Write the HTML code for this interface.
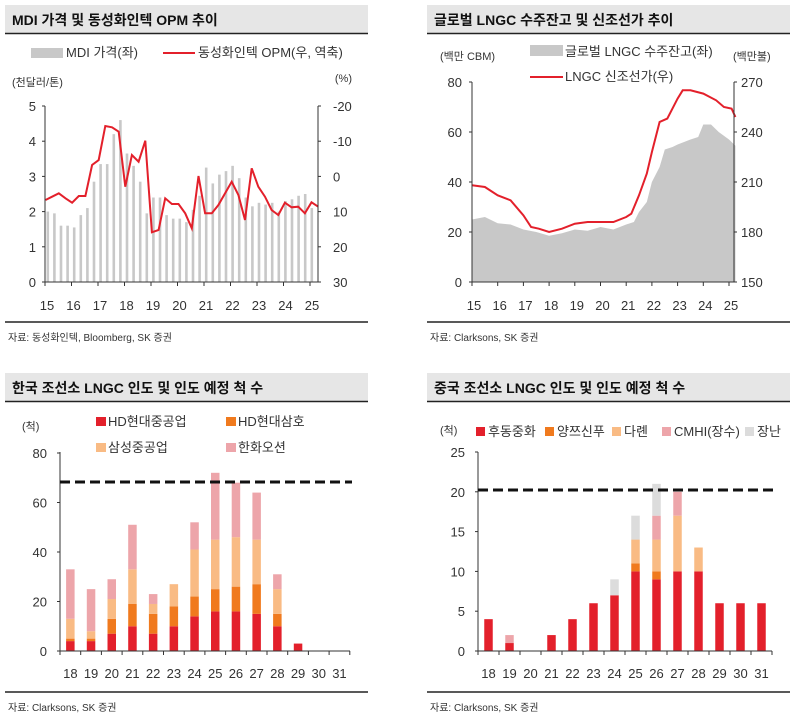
<!DOCTYPE html>
<html><head><meta charset="utf-8"><style>
body{margin:0;background:#fff}
svg{display:block;font-family:"Liberation Sans","Noto Sans CJK KR",sans-serif}
</style></head><body>
<svg id="s" width="800" height="722" viewBox="0 0 800 722" xmlns="http://www.w3.org/2000/svg"></svg>
<script>
const S=document.getElementById('s');let h='';
const R='#e3202b',O='#f07a1e',LO='#f9bb84',PK='#eda5aa',GY='#dcdcdc';
function T(x,y,t,o={}){h+=`<text x="${x}" y="${y}" font-size="${o.s||13}" fill="${o.c||'#333'}" text-anchor="${o.a||'start'}" font-weight="${o.w||'normal'}">${t}</text>`;}
function L(x1,y1,x2,y2,c='#333',w=1,d=''){h+=`<line x1="${x1}" y1="${y1}" x2="${x2}" y2="${y2}" stroke="${c}" stroke-width="${w}" ${d?`stroke-dasharray="${d}"`:''}/>`;}
function Rc(x,y,w,hh,c){h+=`<rect x="${x}" y="${y}" width="${w}" height="${hh}" fill="${c}"/>`;}
function panel(x1,x2,y,title){Rc(x1,y,x2-x1,28,'#e6e6e6');L(x1,y+28.5,x2,y+28.5,'#222',1.5);T(x1+7,y+20,title,{s:14,w:'bold',c:'#111'});}
// Panel 1
panel(5,368,5,'MDI 가격 및 동성화인텍 OPM 추이');
Rc(31,48,32,10,'#c8c8c8');T(66,57,'MDI 가격(좌)',{s:13});
L(163,53,195,53,R,2);T(198,57,'동성화인텍 OPM(우, 역축)',{s:13});
T(12,86,'(천달러/톤)',{s:11});T(352,82,'(%)',{s:11,a:'end'});
const bars=[2.0,1.95,1.6,1.6,1.55,1.9,2.1,2.85,3.35,3.35,4.2,4.6,3.65,3.3,2.85,1.95,2.4,2.4,1.9,1.8,1.8,1.7,2.05,2.45,3.25,2.8,3.05,3.15,3.3,2.95,2.4,2.15,2.25,2.2,2.25,2.0,2.3,2.35,2.45,2.5,2.1];
bars.forEach((v,i)=>Rc(46.5+6.6*i,282-v*35.2,2.6,v*35.2,'#c8c8c8'));
const opm=[600,590,580,595,608,588,588,495,480,378,382,395,560,465,485,422,697,690,595,612,612,640,685,528,640,640,615,580,545,585,660,505,560,590,630,645,608,622,620,640,607,620];
h+=`<polyline fill="none" stroke="${R}" stroke-width="2" points="${opm.map((y,i)=>(45.5+i*6.65).toFixed(1)+','+(y/3).toFixed(1)).join(' ')}"/>`;
L(45,106,45,282);L(318,106,318,282);
for(let k=0;k<=5;k++){let y=282-k*35.2;L(42,y,45,y);T(36,y+5,k,{s:13,a:'end'});L(318,y,321,y);T(333,y+5,[30,20,10,0,-10,-20][k],{s:13});}
L(45,282,318,282);
for(let k=0;k<=10;k++){let x=45+k*26.5;L(x,282,x,286);T(x+2,310,15+k,{s:13,a:'middle'});}
L(5,322,368,322,'#222',1.5);T(8,341,'자료: 동성화인텍, Bloomberg, SK 증권',{s:10});
// Panel 2
panel(427,790,5,'글로벌 LNGC 수주잔고 및 신조선가 추이');
Rc(530,45,33,11,'#c8c8c8');T(565,56,'글로벌 LNGC 수주잔고(좌)',{s:13});
L(530,77,563,77,R,2);T(565,81,'LNGC 신조선가(우)',{s:13});
T(440,60,'(백만 CBM)',{s:11});T(733,60,'(백만불)',{s:11});
const X2=t=>472+(t-15)*25.7;
const ar=[[15,25],[15.5,26],[16,23.5],[16.5,23],[17,21],[17.5,20],[18,18.5],[18.5,19.5],[19,21],[19.5,20.5],[20,22],[20.5,21],[21,23],[21.3,24],[21.5,28],[21.8,32],[22,40],[22.3,46],[22.5,53],[22.8,54],[23,55],[23.5,57],[23.8,58],[24,63],[24.3,63],[24.6,60],[25,57],[25.25,54.5]];
h+=`<polygon fill="#c8c8c8" points="${X2(15)},282 ${ar.map(p=>X2(p[0]).toFixed(1)+','+(282-p[1]*2.5).toFixed(1)).join(' ')} ${X2(25.25)},282"/>`;
const pr=[[15,208],[15.5,207],[16,202],[16.5,199],[17,190],[17.3,183],[17.6,182],[18,180],[18.5,182],[19,185],[19.5,186],[20,186],[20.5,186],[21,189],[21.2,191],[21.5,202],[21.8,215],[22,228],[22.3,246],[22.6,248],[23,260],[23.2,265],[23.5,265],[24,263],[24.5,259],[24.8,255],[25.1,254],[25.25,249]];
h+=`<polyline fill="none" stroke="${R}" stroke-width="2" points="${pr.map(p=>X2(p[0]).toFixed(1)+','+(282-(p[1]-150)*1.667).toFixed(1)).join(' ')}"/>`;
L(472,82,472,282);L(734,82,734,282);L(472,282,734,282);
for(let k=0;k<=4;k++){let y=282-k*50;L(469,y,472,y);T(462,y+5,k*20,{s:13,a:'end'});L(734,y,737,y);T(741,y+5,150+k*30,{s:13});}
for(let k=0;k<=10;k++){let x=472+k*25.7;L(x,282,x,286);T(x+2,310,15+k,{s:13,a:'middle'});}
L(427,322,790,322,'#222',1.5);T(430,341,'자료: Clarksons, SK 증권',{s:10});
// Panel 3
panel(5,368,373,'한국 조선소 LNGC 인도 및 인도 예정 척 수');
Rc(96,417,10,9,R);T(108,426,'HD현대중공업',{s:13});
Rc(226,417,10,9,O);T(238,426,'HD현대삼호',{s:13});
Rc(96,443,10,9,LO);T(108,452,'삼성중공업',{s:13});
Rc(226,443,10,9,PK);T(238,452,'한화오션',{s:13});
T(22,430,'(척)',{s:11});
const k3=[[4,1,8,20],[4,1,3,17],[7,6,8,8],[10,9,14,18],[7,8,4,4],[10,8,9,0],[14,8,19,11],[16,9,20,27],[16,10,20,22],[15,12,18,19],[10,5,10,6],[3,0,0,0],[0,0,0,0],[0,0,0,0]];
const c4=[R,O,LO,PK,GY];
function stack(data,x0,w,y0,sc,bw){data.forEach((d,i)=>{let cx=x0+w*(i+0.5),acc=0;d.forEach((v,j)=>{if(v>0){Rc(cx-bw/2,y0-(acc+v)*sc,bw,v*sc,c4[j]);}acc+=v;});});}
stack(k3,60,20.7,651,2.475,8.5);
L(60,452,60,651);L(60,651,350,651);
for(let k=0;k<=4;k++){let y=651-k*49.5;L(57,y,60,y);T(47,y+5,k*20,{s:13,a:'end'});}
for(let i=0;i<=14;i++){L(60+i*20.7,651,60+i*20.7,655);}
for(let i=0;i<14;i++)T(60+20.7*(i+0.5),678,18+i,{s:13,a:'middle'});
L(60,482,352,482,'#111',3,'10,5');
L(5,692,368,692,'#222',1.5);T(8,711,'자료: Clarksons, SK 증권',{s:10});
// Panel 4
panel(427,790,373,'중국 조선소 LNGC 인도 및 인도 예정 척 수');
T(440,434,'(척)',{s:11});
const lg=[[476,R,'후동중화'],[545,O,'양쯔신푸'],[612,LO,'다롄'],[662,PK,'CMHI(장수)'],[745,GY,'장난']];
lg.forEach(l=>{Rc(l[0],427,9,9,l[1]);T(l[0]+12,436,l[2],{s:13});});
const k4=[[4],[1,0,0,1,0],[0],[2],[4],[6],[7,0,0,0,2],[10,1,3,0,3],[9,1,4,3,4],[10,0,7,3,0],[10,0,3],[6],[6],[6]];
stack(k4,478,21,651,7.96,8.5);
L(478,452,478,651);L(478,651,772,651);
for(let k=0;k<=5;k++){let y=651-k*39.8;L(475,y,478,y);T(465,y+5,k*5,{s:13,a:'end'});}
for(let i=0;i<=14;i++){L(478+i*21,651,478+i*21,655);}
for(let i=0;i<14;i++)T(478+21*(i+0.5),678,18+i,{s:13,a:'middle'});
L(478,490,775,490,'#111',3,'10,5');
L(427,692,790,692,'#222',1.5);T(430,711,'자료: Clarksons, SK 증권',{s:10});
S.innerHTML=h;
</script>
</body></html>
